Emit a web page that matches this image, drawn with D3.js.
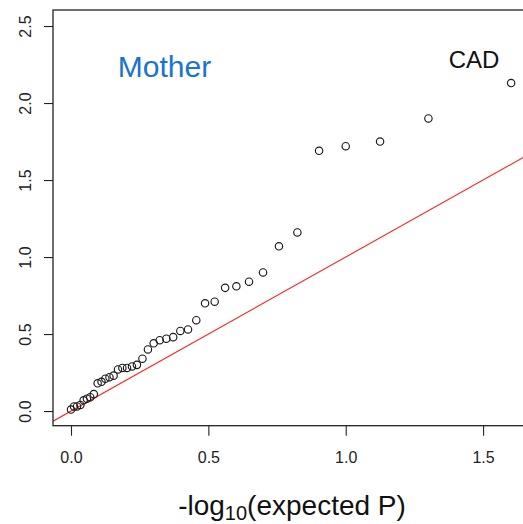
<!DOCTYPE html>
<html>
<head>
<meta charset="utf-8">
<script src="https://cdn.jsdelivr.net/npm/d3@7"></script>
<style>
  body { margin: 0; background: #fff; overflow: hidden; }
  svg { display: block; font-family: "Liberation Sans", Arial, sans-serif; }
</style>
</head>
<body>
<svg id="chart" width="523" height="524"></svg>
<script>
// expected -log10(P) for each SNP
const expectedP = [0.000, 0.011, 0.022, 0.034, 0.046, 0.058, 0.070, 0.083, 0.097, 0.111,
                   0.125, 0.140, 0.155, 0.171, 0.187, 0.204, 0.222, 0.240, 0.260, 0.280,
                   0.301, 0.323, 0.347, 0.372, 0.398, 0.426, 0.456, 0.488, 0.523, 0.561,
                   0.602, 0.648, 0.699, 0.757, 0.824, 0.903, 1.000, 1.125, 1.301, 1.602];
// observed -log10(P)
const observedP = [0.01, 0.03, 0.03, 0.04, 0.07, 0.08, 0.09, 0.11, 0.18, 0.19,
                   0.21, 0.22, 0.23, 0.27, 0.28, 0.28, 0.29, 0.30, 0.34, 0.40,
                   0.44, 0.46, 0.47, 0.48, 0.52, 0.53, 0.59, 0.70, 0.71, 0.80,
                   0.81, 0.84, 0.90, 1.07, 1.16, 1.69, 1.72, 1.75, 1.90, 2.13];
const xTicks = [0, 0.5, 1.0, 1.5];
const yTicks = [0, 0.5, 1.0, 1.5, 2.0, 2.5];

const svg = d3.select("#chart");
const plotL = 53, plotT = 10, plotR = 539, plotB = 425.7;

const x = d3.scaleLinear().domain([-0.0655, 1.7035]).range([plotL, plotR]);
const y = d3.scaleLinear().domain([-0.095, 2.604]).range([plotB, plotT]);

svg.append("clipPath").attr("id", "plotClip")
  .append("rect")
  .attr("x", plotL).attr("y", plotT)
  .attr("width", plotR - plotL).attr("height", plotB - plotT);

const plot = svg.append("g").attr("clip-path", "url(#plotClip)");

// y = x reference line
plot.append("line")
  .attr("x1", x(-0.0655)).attr("y1", y(-0.0655))
  .attr("x2", x(1.7035)).attr("y2", y(1.7035))
  .attr("stroke", "#f22")
  .attr("stroke-width", 1.1);

plot.selectAll("circle")
  .data(expectedP.map((e, i) => [e, observedP[i]]))
  .enter().append("circle")
  .attr("cx", d => x(d[0]))
  .attr("cy", d => y(d[1]))
  .attr("r", 3.7)
  .attr("fill", "none")
  .attr("stroke", "#1a1a1a")
  .attr("stroke-width", 1.15);

// box
svg.append("rect")
  .attr("x", plotL).attr("y", plotT)
  .attr("width", plotR - plotL).attr("height", plotB - plotT)
  .attr("fill", "none")
  .attr("stroke", "#222")
  .attr("stroke-width", 1.3);

const fmt = d3.format(".1f");

const xAxis = svg.append("g")
  .attr("transform", `translate(0,${plotB})`)
  .call(d3.axisBottom(x).tickValues(xTicks).tickFormat(fmt).tickSize(10).tickPadding(16));
xAxis.select(".domain").remove();

const yAxis = svg.append("g")
  .attr("transform", `translate(${plotL},0)`)
  .call(d3.axisLeft(y).tickValues(yTicks).tickFormat(fmt).tickSize(9).tickPadding(0));
yAxis.select(".domain").remove();

svg.selectAll(".tick line").attr("stroke", "#222").attr("stroke-width", 1.1);
svg.selectAll(".tick text")
  .attr("fill", "#222")
  .style("font-family", "'Liberation Sans', Arial, sans-serif")
  .style("font-size", "16px");

yAxis.selectAll(".tick text")
  .attr("x", null).attr("dy", null)
  .attr("text-anchor", "middle")
  .attr("transform", "translate(-22.5,0) rotate(-90)");

// x axis title with subscript
const title = svg.append("text")
  .attr("x", 292)
  .attr("y", 515)
  .attr("text-anchor", "middle")
  .attr("fill", "#111")
  .style("font-size", "28px");
title.append("tspan").text("-log");
title.append("tspan").attr("dy", 5).style("font-size", "20px").text("10");
title.append("tspan").attr("dy", -5).text("(expected P)");

svg.append("text")
  .attr("x", 164.5).attr("y", 77)
  .attr("text-anchor", "middle")
  .attr("fill", "#1874cd")
  .style("font-size", "30px")
  .text("Mother");

svg.append("text")
  .attr("x", 474).attr("y", 68)
  .attr("text-anchor", "middle")
  .attr("fill", "#111")
  .style("font-size", "24px")
  .text("CAD");
</script>
</body>
</html>
